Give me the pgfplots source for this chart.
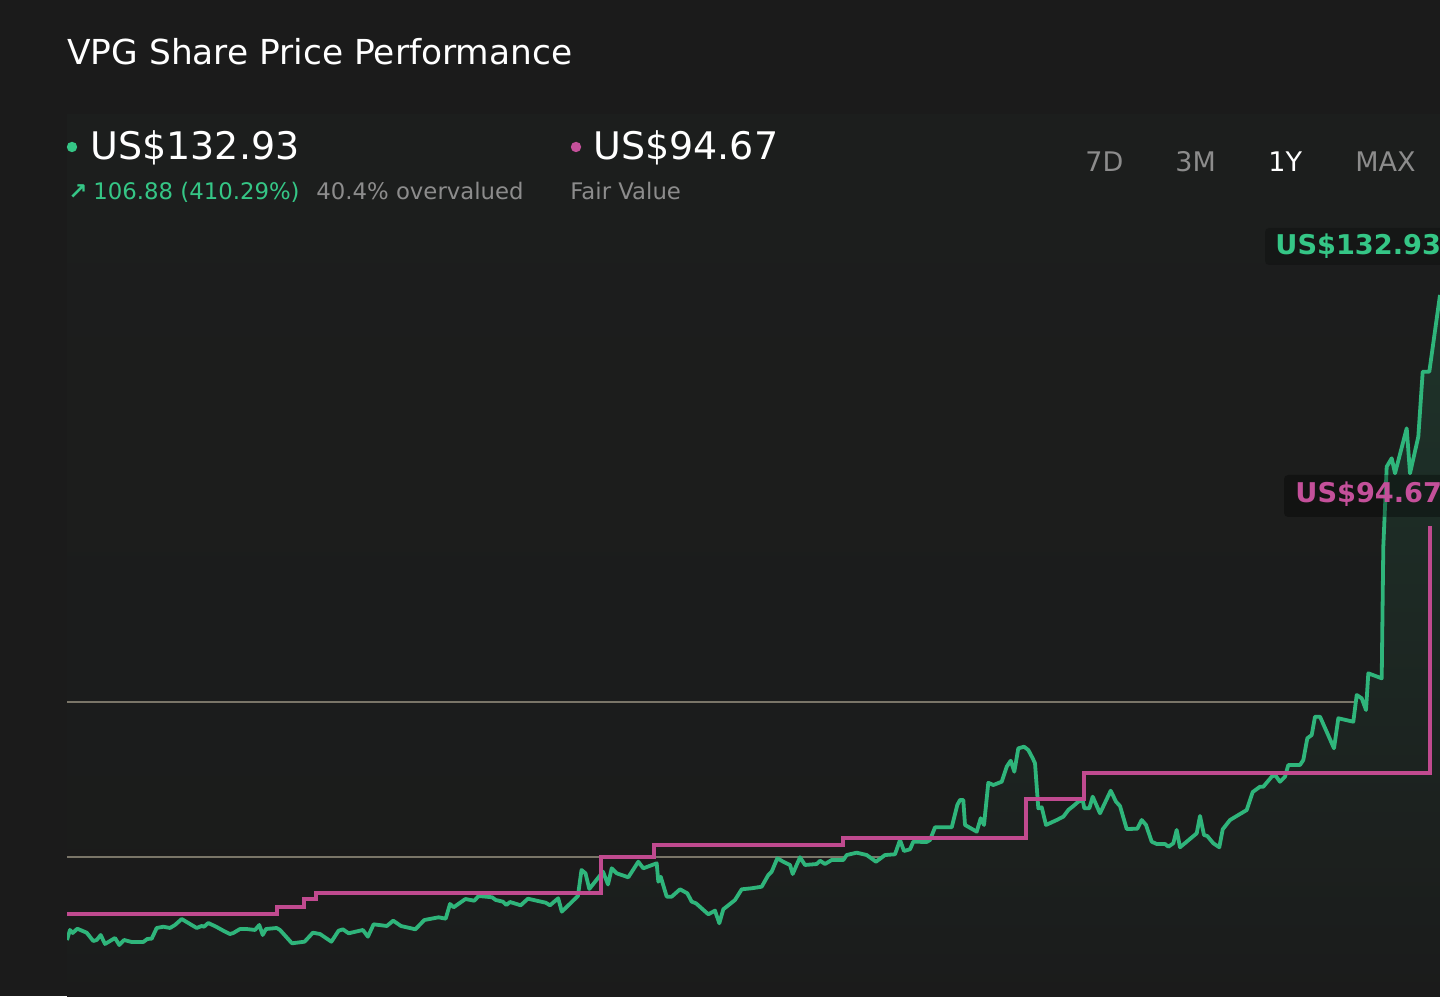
\documentclass[border=0pt]{standalone}
\usepackage{fontspec}
\setmainfont{DejaVu Sans}
\usepackage{pgfplots}
\pgfplotsset{compat=1.18}
\usepackage{pgfplotstable}
\definecolor{bg}{HTML}{1B1B1B}
\definecolor{plotbg}{HTML}{1C1E1D}
\definecolor{lgreen}{HTML}{2FB57B}
\definecolor{tgreen}{HTML}{35C686}
\definecolor{lpink}{HTML}{C04A8F}
\definecolor{tpink}{HTML}{C4509A}
\definecolor{gridc}{HTML}{7A7568}
\definecolor{tgrey}{HTML}{8C8C8C}

\pgfplotstableread{
x p
67 26.05
70 27.71
72.7 27.21
77.3 27.92
86.7 27.26
93.3 25.88
96.7 26.05
100.7 26.88
105 25.39
115 26.38
119.3 25.22
124 26.05
131.7 25.72
143.3 25.72
147.3 26.22
151.7 26.27
156.7 28.04
163.3 28.25
170 28.04
175 28.54
181.7 29.53
190 28.70
196.7 28.04
201.7 28.37
204 28.25
208.3 28.87
216.7 28.20
223.3 27.59
230 27.04
233.3 27.21
240 27.87
246.7 27.87
255 27.71
259.3 28.54
262.7 26.88
266 27.87
276.7 28.04
280 27.71
292 25.50
304.6 25.77
312.9 27.26
320 27.04
331.4 25.77
338.6 27.59
342.9 27.82
348.6 27.16
362.9 27.71
367.9 26.60
373.6 28.65
386.8 28.37
393.2 29.25
401 28.37
415.4 27.82
424.3 29.36
438.6 29.81
445.7 29.58
450 32.02
453.6 31.47
465.4 32.84
474.3 32.56
478.6 33.34
492.1 33.13
495.7 32.68
502.9 32.40
506.4 31.85
510 32.35
520.7 31.80
527.9 32.89
545.7 32.23
550 31.80
558.2 32.96
561.8 30.74
577.9 33.34
581.5 37.65
585.5 37.10
589.3 34.50
603 37.37
608 35.25
611.7 37.93
616.7 37.10
628.3 36.44
638.3 39.02
643.3 37.93
656.7 38.76
658.3 35.71
660.7 36.54
666.7 33.23
671.7 33.23
680 34.45
687.3 33.79
691.7 32.40
696 32.13
708.3 30.31
715 30.91
719.3 28.82
723.3 31.14
735 32.68
741.7 34.45
751.7 34.62
761.7 34.88
768.3 36.82
771.7 37.37
777.3 39.59
783.3 39.02
790 38.48
792.7 36.99
800 39.75
805 38.48
816.7 38.64
820 39.19
825 38.64
831.7 39.31
843.3 39.31
846.7 40.13
856.7 40.52
866.7 40.13
876 39.02
885 40.13
895 40.25
900 42.62
904 40.80
910 41.08
913.3 42.34
926.7 42.29
930 42.62
935 44.72
951.7 44.72
957.3 48.42
960 49.25
963.3 49.25
965 45.11
976.7 44.00
980.7 46.22
984 45.11
988.3 52.11
993.3 51.73
1001.7 52.28
1006.7 54.77
1010.7 55.76
1014.3 53.94
1018.3 57.81
1024 58.08
1028.3 57.53
1032.7 56.16
1035 55.33
1038.3 47.87
1041.7 48.04
1046 45.11
1056.7 45.93
1063.3 46.48
1068.3 47.59
1073.3 48.25
1078.3 48.97
1082.7 49.25
1084.3 47.87
1089.3 47.87
1092.7 49.80
1100 47.04
1110.7 50.79
1116 48.97
1120 48.25
1126.7 44.44
1137.3 44.49
1141.7 45.93
1146 45.11
1151.7 42.34
1156.7 41.96
1165 41.96
1168.3 41.51
1173.3 42.07
1176.7 44.28
1180 41.41
1196.7 43.73
1200 46.60
1204 43.45
1207.3 43.28
1213.3 42.07
1219.3 41.41
1222.7 44.39
1230 45.93
1246.7 47.59
1252.7 50.57
1260 51.45
1263.3 51.45
1271.7 53.11
1275 53.39
1280 52.28
1285 53.11
1288.3 55.05
1300 55.05
1303.3 55.88
1307.3 59.47
1311.7 60.02
1315 63.05
1320 63.05
1334 57.81
1338.3 62.79
1353.3 62.22
1356.7 66.65
1361.7 66.10
1366 64.16
1368.3 70.24
1381.7 69.41
1383.3 91.22
1386.7 104.48
1391.7 105.87
1395 103.38
1406.7 110.84
1410 103.38
1418.3 109.45
1422.7 120.22
1429.3 120.22
1440 132.93
}\price

\pgfplotstableread{
x fv
67 30.36
277 31.52
304 32.84
316 33.84
601 39.80
654 41.79
843 42.95
1026 49.41
1084 53.72
1430 94.67
}\fair

\begin{document}
\begin{tikzpicture}
\path[use as bounding box, fill=bg] (0,0) rectangle (720pt,498pt);
\shade[top color=plotbg, bottom color=bg] (33.5pt,0pt) rectangle (720pt,440.5pt);

\begin{axis}[
  at={(33.5pt,0pt)}, anchor=south west,
  scale only axis, width=686.5pt, height=383pt,
  xmin=67, xmax=1440, ymin=16.77, ymax=143.70,
  axis line style={draw=none},
  xtick=\empty, ytick={39.80,65.49}, yticklabels={},
  major tick length=0pt,
  ymajorgrids, grid style={color=gridc, line width=0.75pt},
  clip=true,
]
\addplot[draw=none, top color=lgreen!16!bg, bottom color=bg] table[x=x,y=p]{\price} \closedcycle;
\addplot[color=lgreen, line width=1.9pt, line join=round] table[x=x,y=p]{\price};
\addplot[const plot, color=lpink, line width=1.6pt] table[x=x,y=fv]{\fair};
\end{axis}

% title
\node[anchor=base west, inner sep=0, text=white] at (33.5pt,465.5pt) {\fontsize{17.2pt}{20pt}\selectfont VPG Share Price Performance};

% legend-like header
\fill[tgreen] (36pt,424.5pt) circle (2.6pt);
\node[anchor=base west, inner sep=0, text=white] at (45pt,418pt) {\fontsize{19pt}{22pt}\selectfont US\$132.93};
\node[anchor=base west, inner sep=0, text=tgreen] at (34pt,398pt) {\fontsize{11.4pt}{13pt}\selectfont\bfseries ↗};
\node[anchor=base west, inner sep=0, text=tgreen] at (46.5pt,398pt) {\fontsize{11.4pt}{13pt}\selectfont 106.88 (410.29\%)};
\node[anchor=base west, inner sep=0, text=tgrey] at (158pt,398pt) {\fontsize{11.4pt}{13pt}\selectfont 40.4\% overvalued};

\fill[tpink] (288pt,424.5pt) circle (2.6pt);
\node[anchor=base west, inner sep=0, text=white] at (296.5pt,418pt) {\fontsize{19pt}{22pt}\selectfont US\$94.67};
\node[anchor=base west, inner sep=0, text=tgrey] at (285pt,398pt) {\fontsize{11.4pt}{13pt}\selectfont Fair Value};

% range buttons
\node[anchor=base west, inner sep=0, text=tgrey] at (542.5pt,412pt) {\fontsize{13.5pt}{16pt}\selectfont 7D};
\node[anchor=base west, inner sep=0, text=tgrey] at (587.5pt,412pt) {\fontsize{13.5pt}{16pt}\selectfont 3M};
\node[anchor=base west, inner sep=0, text=white] at (634pt,412pt) {\fontsize{13.5pt}{16pt}\selectfont 1Y};
\node[anchor=base west, inner sep=0, text=tgrey] at (677.5pt,412pt) {\fontsize{13.5pt}{16pt}\selectfont MAX};

% end labels
\fill[black, fill opacity=0.22, rounded corners=2pt] (632.5pt,365.5pt) rectangle (725pt,384pt);
\node[anchor=base west, inner sep=0, text=tgreen] at (637.5pt,370.5pt) {\fontsize{13.6pt}{15pt}\selectfont\bfseries US\$132.93};
\fill[black, fill opacity=0.32, rounded corners=2pt] (642pt,239.5pt) rectangle (725pt,260.5pt);
\node[anchor=base west, inner sep=0, text=tpink] at (647.5pt,246.5pt) {\fontsize{13.6pt}{15pt}\selectfont\bfseries US\$94.67};
\end{tikzpicture}
\end{document}
